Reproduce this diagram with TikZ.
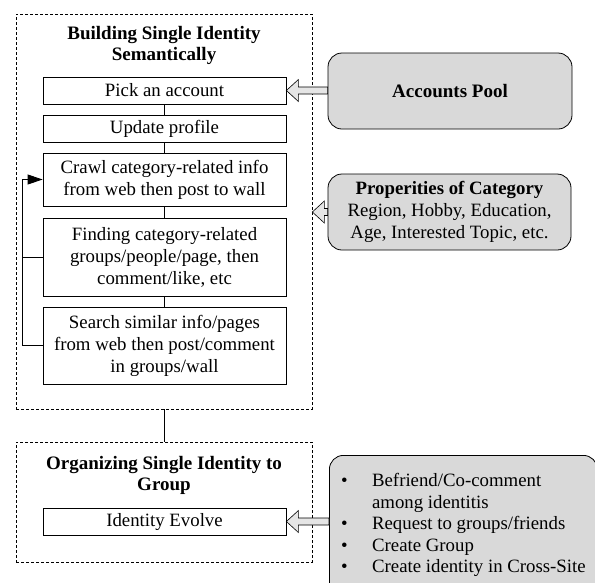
\documentclass[tikz,border=0pt]{standalone}
\usepackage{fontspec}
\setmainfont{Liberation Serif}
\usetikzlibrary{arrows.meta,positioning,calc}

% hollow block arrow, #1 tail, #2 tip (same height)
\newcommand{\fatarrow}[2]{%
  \draw[line width=0.6pt,fill=gray!20] (#2) -- ++(12,-11) -- ++(0,7.5)
    -- ($(#1)+(0,-3.5)$) -- ++(0,7) -- ($(#2)+(12,3.5)$) -- ++(0,7.5) -- cycle;}

\begin{document}
\begin{tikzpicture}[x=1pt,y=-1pt,
  font=\fontsize{18.8}{22}\selectfont,
  stepbox/.style={draw,line width=0.8pt,minimum width=243pt,align=center,inner sep=1pt},
  groupbox/.style={draw,line width=0.7pt,dash pattern=on 3pt off 2pt,minimum width=296pt},
  infobox/.style={draw,line width=0.8pt,fill=gray!30,rounded corners=14pt},
  heading/.style={align=center,font=\fontsize{19}{21}\selectfont\bfseries},
  link/.style={line width=0.8pt}]
	\clip (0,0) rectangle (595,582);
	
	% building single identity
	\node[groupbox,minimum height=395pt] (build) at (164,211.5) {};
	\node[heading] (buildtitle) at (164,45) {Building Single Identity\\Semantically};
	\node[stepbox,minimum height=27pt] (pick) at (164.5,90.5) {Pick an account};
	\node[stepbox,minimum height=27pt] (update) at (164.5,128.5) {Update profile};
	\node[stepbox,minimum height=53pt] (crawl) at (164.5,179.5) {Crawl category-related info\\from web then post to wall};
	\node[stepbox,minimum height=78pt] (find) at (164.5,257) {Finding category-related\\groups/people/page, then\\comment/like, etc};
	\node[stepbox,minimum height=77pt] (search) at (164.5,345.5) {Search similar info/pages\\from web then post/comment\\in groups/wall};
	
	\draw[link] (pick) -- (update);
	\draw[link] (update) -- (crawl);
	\draw[link] (crawl) -- (find);
	\draw[link] (find) -- (search);
	
	% loop back to crawling
	\coordinate (loop) at ($(crawl.west)+(-20,0)$);
	\draw[link,-{Triangle[length=15pt,width=10pt]}] (search.west) -| (loop) -- (crawl.west);
	\draw[link] (find.west) -- (find.west -| loop);
	
	% organizing to group
	\node[groupbox,minimum height=120pt] (org) at (164,502) {};
	\node[heading] (orgtitle) at (164,475) {Organizing Single Identity to\\Group};
	\node[stepbox,minimum height=27pt] (evolve) at (164.5,521.5) {Identity Evolve};
	\draw[link] (build) -- (org);
	
	% inputs on the right
	\node[infobox,minimum width=244pt,minimum height=76pt,font=\fontsize{19}{22}\selectfont\bfseries] (pool) at (450,91) {Accounts Pool};
	\node[infobox,minimum width=243pt,minimum height=76pt,align=center] (prop) at (449.5,212) {\textbf{Properities of Category}\\Region, Hobby, Education,\\Age, Interested Topic, etc.};
	\node[infobox,anchor=north west,minimum width=268pt,inner xsep=10pt,inner ysep=16pt] (bullets) at (329,455) {%
		\renewcommand{\arraystretch}{0.98}%
		\begin{tabular}{@{}p{31pt}@{}l@{}}
		\textbullet & Befriend/Co-comment\\
		 & among identitis\\
		\textbullet & Request to groups/friends\\
		\textbullet & Create Group\\
		\textbullet & Create identity in Cross-Site\\
		 & \\
		\end{tabular}};
	
	\coordinate (pooltail) at (pool.west |- pick.east);
	\coordinate (proptip) at (build.east |- prop.west);
	\coordinate (bullettail) at (bullets.west |- evolve.east);
	\fatarrow{pooltail}{pick.east}
	\fatarrow{prop.west}{proptip}
	\fatarrow{bullettail}{evolve.east}
\end{tikzpicture}
\end{document}
